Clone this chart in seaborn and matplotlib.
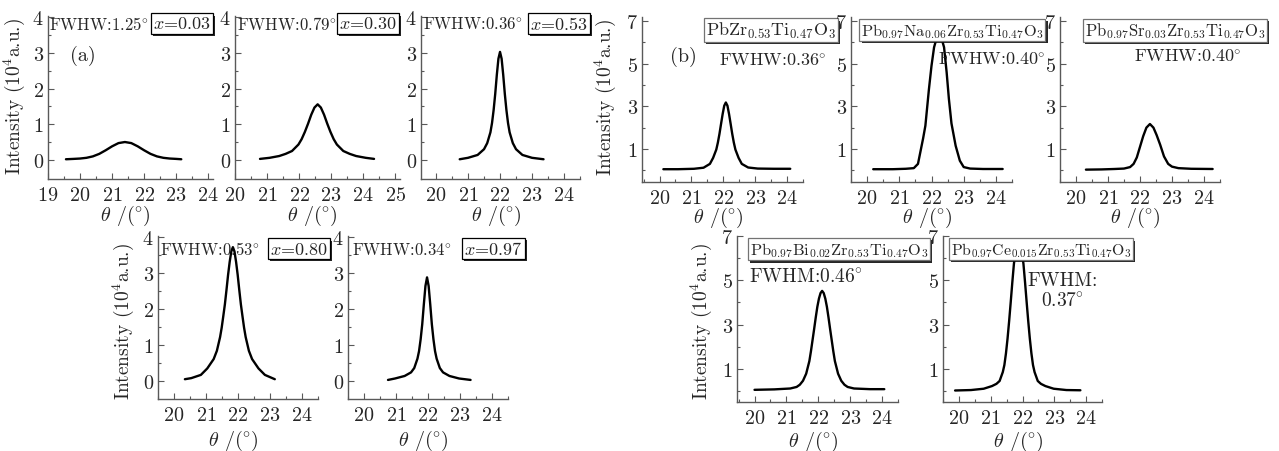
import matplotlib
matplotlib.use("Agg")
import matplotlib.pyplot as plt
import matplotlib.patheffects as pe
from matplotlib.ticker import MultipleLocator
import pandas as pd
import seaborn as sns

# ---- values ----
# (a) PbZr(x)Ti(1-x)O3 peaks
theta_x003 = [19.56, 19.8, 20.0, 20.2, 20.4, 20.6, 20.8, 21.0, 21.2, 21.4, 21.6, 21.8, 22.0, 22.2, 22.4, 22.6, 22.8, 23.0, 23.16]
int_x003 = [0.03, 0.04, 0.05, 0.07, 0.11, 0.18, 0.28, 0.39, 0.48, 0.51, 0.48, 0.39, 0.28, 0.18, 0.11, 0.07, 0.05, 0.04, 0.03]

theta_x030 = [20.78, 21.08, 21.38, 21.58, 21.78, 21.98, 22.08, 22.18, 22.28, 22.38, 22.48, 22.58, 22.68, 22.78, 22.88, 22.98, 23.08, 23.18, 23.38, 23.58, 23.78, 24.08, 24.34]
int_x030 = [0.04, 0.07, 0.12, 0.18, 0.26, 0.44, 0.59, 0.79, 1.02, 1.27, 1.47, 1.56, 1.47, 1.27, 1.02, 0.79, 0.59, 0.44, 0.26, 0.18, 0.12, 0.07, 0.04]

theta_x053 = [20.74, 21.0, 21.3, 21.5, 21.6, 21.7, 21.75, 21.8, 21.85, 21.9, 21.95, 22.0, 22.05, 22.1, 22.15, 22.2, 22.25, 22.3, 22.4, 22.5, 22.7, 23.0, 23.36]
int_x053 = [0.03, 0.07, 0.15, 0.31, 0.48, 0.78, 1.04, 1.40, 1.85, 2.38, 2.83, 3.02, 2.83, 2.38, 1.85, 1.40, 1.04, 0.78, 0.48, 0.31, 0.15, 0.07, 0.03]

theta_x080 = [20.34, 20.54, 20.84, 21.04, 21.24, 21.34, 21.44, 21.49, 21.54, 21.59, 21.64, 21.69, 21.74, 21.79, 21.84,
              21.89, 21.94, 21.99, 22.04, 22.09, 22.14, 22.19, 22.24, 22.34, 22.44, 22.64, 22.84, 23.15]
int_x080 = [0.05, 0.08, 0.17, 0.35, 0.61, 0.84, 1.22, 1.48, 1.80, 2.13, 2.53, 2.95, 3.31, 3.60, 3.72,
            3.60, 3.31, 2.95, 2.53, 2.13, 1.80, 1.48, 1.22, 0.84, 0.61, 0.35, 0.17, 0.05]

theta_x097 = [20.75, 20.97, 21.27, 21.47, 21.57, 21.67, 21.72, 21.77, 21.82, 21.87, 21.92, 21.97, 22.02, 22.07, 22.12, 22.17, 22.22, 22.27, 22.37, 22.47, 22.67, 22.97, 23.33]
int_x097 = [0.03, 0.07, 0.14, 0.24, 0.36, 0.62, 0.83, 1.16, 1.58, 2.13, 2.64, 2.88, 2.64, 2.13, 1.58, 1.16, 0.83, 0.62, 0.36, 0.24, 0.14, 0.07, 0.03]

# (b) doped PZT peaks
theta_pzt = [20.12, 20.58, 21.08, 21.38, 21.58, 21.68, 21.78, 21.83, 21.88, 21.93, 21.98, 22.03, 22.08, 22.13, 22.18, 22.23, 22.28, 22.33, 22.38, 22.48, 22.58, 22.78, 23.08, 23.58, 24.1]
int_pzt = [0.05, 0.05, 0.07, 0.12, 0.30, 0.58, 0.97, 1.30, 1.71, 2.18, 2.64, 3.03, 3.18, 3.03, 2.64, 2.18, 1.71, 1.30, 0.97, 0.58, 0.30, 0.13, 0.08, 0.07, 0.07]

theta_na = [20.19, 20.8, 21.2, 21.45, 21.58, 21.66, 21.74, 21.81, 21.92, 22.0, 22.08, 22.16, 22.23, 22.31, 22.39, 22.47, 22.54, 22.62, 22.75, 22.88, 23.0, 23.2, 23.6, 24.21]
int_na = [0.05, 0.05, 0.07, 0.10, 0.30, 0.90, 1.50, 2.09, 3.80, 4.90, 5.77, 6.20, 6.30, 6.20, 5.77, 4.60, 3.35, 2.20, 1.15, 0.45, 0.15, 0.08, 0.06, 0.06]

theta_sr = [20.31, 20.8, 21.2, 21.5, 21.69, 21.8, 21.9, 22.0, 22.1, 22.2, 22.31, 22.42, 22.52, 22.63, 22.75, 22.88, 23.0, 23.2, 23.6, 24.27]
int_sr = [0.03, 0.04, 0.06, 0.08, 0.15, 0.30, 0.60, 1.10, 1.60, 2.00, 2.17, 2.00, 1.65, 1.20, 0.65, 0.30, 0.17, 0.10, 0.07, 0.06]

theta_bi = [20.0, 20.62, 21.12, 21.32, 21.42, 21.52, 21.62, 21.72, 21.77, 21.82, 21.87, 21.92, 21.97, 22.02, 22.07, 22.12,
            22.17, 22.22, 22.27, 22.32, 22.37, 22.42, 22.47, 22.52, 22.62, 22.72, 22.82, 22.92, 23.12, 23.62, 24.07]
int_bi = [0.05, 0.07, 0.11, 0.18, 0.28, 0.46, 0.78, 1.35, 1.80, 2.30, 2.80, 3.32, 3.80, 4.17, 4.42, 4.52,
          4.42, 4.17, 3.80, 3.32, 2.80, 2.30, 1.80, 1.35, 0.78, 0.46, 0.28, 0.18, 0.11, 0.08, 0.08]

theta_ce = [19.88, 20.38, 20.78, 21.04, 21.18, 21.28, 21.38, 21.43, 21.48, 21.53, 21.58, 21.63, 21.68, 21.73, 21.78, 21.83, 21.88,
            21.93, 21.98, 22.03, 22.08, 22.13, 22.18, 22.23, 22.28, 22.33, 22.38, 22.48, 22.58, 22.72, 22.98, 23.38, 23.82]
int_ce = [0.02, 0.04, 0.10, 0.22, 0.32, 0.45, 0.85, 1.17, 1.70, 2.37, 3.16, 4.02, 4.91, 5.74, 6.30, 6.55, 6.65,
          6.55, 6.30, 5.74, 4.91, 4.02, 3.16, 2.37, 1.70, 1.17, 0.85, 0.45, 0.32, 0.22, 0.10, 0.04, 0.03]

x_values = ["0.03", "0.30", "0.53", "0.80", "0.97"]
fwhm_a = ["1.25", "0.79", "0.36", "0.53", "0.34"]
formulas_b = [r"PbZr$_{0.53}$Ti$_{0.47}$O$_3$",
              r"Pb$_{0.97}$Na$_{0.06}$Zr$_{0.53}$Ti$_{0.47}$O$_3$",
              r"Pb$_{0.97}$Sr$_{0.03}$Zr$_{0.53}$Ti$_{0.47}$O$_3$",
              r"Pb$_{0.97}$Bi$_{0.02}$Zr$_{0.53}$Ti$_{0.47}$O$_3$",
              r"Pb$_{0.97}$Ce$_{0.015}$Zr$_{0.53}$Ti$_{0.47}$O$_3$"]
fwhm_b = ["0.36", "0.40", "0.40", "0.46", "0.37"]

sns.set_theme(style="ticks")
plt.rcParams["font.family"] = ["cmr10", "DejaVu Serif"]
plt.rcParams["mathtext.fontset"] = "cm"
plt.rcParams["axes.formatter.use_mathtext"] = True

W, H = 1279, 452
fig = plt.figure(figsize=(W / 100, H / 100), dpi=100)
fig.patch.set_facecolor("white")

DEG = r"$\!^\circ$"
YLAB = r"Intensity (10$^4$a.u.)"
XLAB = r"$\theta$ /($\!^\circ\!$)"


def make_axes(l, t, r, b):
    return fig.add_axes([l / W, 1 - b / H, (r - l) / W, (b - t) / H])


def style(ax, xlim, ylim, yticks, yminor, xlab_y):
    ax.set_xlim(*xlim)
    ax.set_ylim(*ylim)
    ax.set_xticks(range(int(xlim[0] + 0.99), int(xlim[1]) + 1))
    ax.xaxis.set_minor_locator(MultipleLocator(0.5))
    ax.set_yticks(yticks)
    ax.set_yticks(yminor, minor=True)
    for s in ["top", "right"]:
        ax.spines[s].set_visible(False)
    for s in ["left", "bottom"]:
        ax.spines[s].set_color("0.35")
        ax.spines[s].set_linewidth(1.0)
    ax.tick_params(which="both", direction="in", color="0.35", width=0.8)
    ax.tick_params(which="major", length=4, labelsize=14.5, pad=3)
    ax.tick_params(which="minor", length=2.5)
    ax.tick_params(axis="x", which="major", pad=5)
    ax.set_facecolor("white")
    ax.set_xlabel(XLAB, fontsize=14.5)
    ax.xaxis.set_label_coords(0.47, xlab_y)
    ax.set_ylabel("")


def curve(ax, theta, inten):
    df = pd.DataFrame({"theta": theta, "intensity": inten})
    sns.lineplot(data=df, x="theta", y="intensity", ax=ax, color="black",
                 linewidth=1.7, estimator=None, sort=True)


def boxed(ax, x, y, s, ha, ec, size=13.0, pad=0.12):
    t = ax.text(x, y, s, transform=ax.transAxes, ha=ha, va="center", fontsize=size,
                zorder=6, clip_on=False,
                bbox=dict(boxstyle=f"square,pad={pad}", fc="white", ec=ec, lw=0.9))
    t.get_bbox_patch().set_path_effects(
        [pe.SimplePatchShadow(offset=(1.6, -1.6), shadow_rgbFace="black", alpha=0.85), pe.Normal()])


def ylab(ax, x, y):
    ax.set_ylabel(YLAB, fontsize=14)
    ax.yaxis.set_label_coords(x, y)


# ---- panel (a) ----
a_rects = [(48, 17, 213, 180), (235, 17, 400, 180), (421, 17, 580, 180),
           (158, 237, 318, 400), (348, 237, 508, 400)]
a_xlims = [(19, 24.15), (20, 25.15), (19.53, 24.5), (19.5, 24.5), (19.5, 24.5)]
a_ylims = [(-0.52, 4.02)] * 3 + [(-0.5, 4.03)] * 2
a_data = [(theta_x003, int_x003), (theta_x030, int_x030), (theta_x053, int_x053),
          (theta_x080, int_x080), (theta_x097, int_x097)]
a_box = [(0.985, "right"), (0.98, "right"), (0.685, "left"), (1.06, "right"), (1.09, "right")]
a_fw_x = [0.008, 0.012, 0.013, 0.012, 0.025]

for i in range(5):
    ax = make_axes(*a_rects[i])
    curve(ax, *a_data[i])
    top_row = i < 3
    style(ax, a_xlims[i], a_ylims[i], [0, 1, 2, 3, 4], [0.5, 1.5, 2.5, 3.5],
          -0.147 if top_row else -0.178)
    ty = 0.954 if top_row else 0.923
    ax.text(a_fw_x[i], ty, "FWHW:" + fwhm_a[i] + DEG, transform=ax.transAxes,
            ha="left", va="center", fontsize=12, zorder=5)
    bx, bha = a_box[i]
    label = r"$x$=" + x_values[i] + (r"$\;\;\;\;$" if bha == "left" else "")
    boxed(ax, bx, ty, label, bha, "black")
    if i == 0:
        ylab(ax, -0.125, 0.515)
        ax.text(0.212, 0.761, "(a)", transform=ax.transAxes, ha="center", va="center", fontsize=14.5)
    if i == 3:
        ylab(ax, -0.14, 0.48)

# ---- panel (b) ----
b_rects = [(642, 18, 803, 183), (851, 18, 1012, 183), (1060, 18, 1220, 183),
           (737, 237, 898, 403), (943, 237, 1102, 403)]
b_xlims = [(19.45, 24.5), (19.5, 24.5), (19.5, 24.5), (19.45, 24.5), (19.5, 24.5)]
b_ylims = [(-0.55, 7.19)] * 3 + [(-0.5, 7.0)] * 2
b_data = [(theta_pzt, int_pzt), (theta_na, int_na), (theta_sr, int_sr),
          (theta_bi, int_bi), (theta_ce, int_ce)]
b_box_x = [0.80, 0.63, 0.72, 0.634, 0.616]
b_box_size = [13.0, 11.8, 12.0, 11.8, 11.4]

for i in range(5):
    ax = make_axes(*b_rects[i])
    curve(ax, *b_data[i])
    top_row = i < 3
    style(ax, b_xlims[i], b_ylims[i], [1, 3, 5, 7], [0, 2, 4, 6],
          -0.14 if top_row else -0.163)
    boxed(ax, b_box_x[i], 0.92, formulas_b[i], "center", "0.45", size=b_box_size[i], pad=0.1)
    if i == 0:
        ylab(ax, -0.15, 0.52)
        ax.text(0.255, 0.764, "(b)", transform=ax.transAxes, ha="center", va="center", fontsize=14.5)
        ax.text(0.81, 0.74, "FWHW:" + fwhm_b[i] + DEG, transform=ax.transAxes,
                ha="center", va="center", fontsize=13)
    elif i == 1:
        ax.text(0.873, 0.745, "FWHW:" + fwhm_b[i] + DEG, transform=ax.transAxes,
                ha="center", va="center", fontsize=13, clip_on=False)
    elif i == 2:
        ax.text(0.80, 0.764, "FWHW:" + fwhm_b[i] + DEG, transform=ax.transAxes,
                ha="center", va="center", fontsize=13)
    elif i == 3:
        ylab(ax, -0.145, 0.49)
        ax.text(0.075, 0.753, "FWHM:" + fwhm_b[i] + DEG, transform=ax.transAxes,
                ha="left", va="center", fontsize=14)
    else:
        ax.text(0.75, 0.67, "FWHM:\n" + fwhm_b[i] + DEG, transform=ax.transAxes,
                ha="center", va="center", fontsize=14, linespacing=1.15)

fig.savefig("out.png", dpi=100, facecolor="white")
